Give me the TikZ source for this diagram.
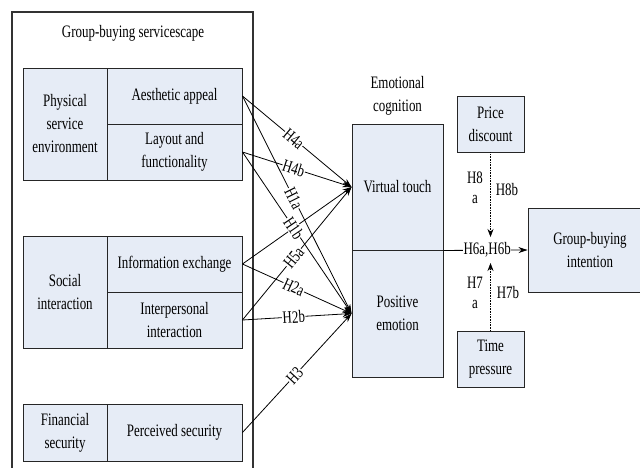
\documentclass[tikz,border=0pt]{standalone}
\usepackage{fontspec}
\setmainfont{Liberation Serif}[FakeStretch=0.74]
\usetikzlibrary{arrows.meta}
\definecolor{boxfill}{HTML}{E6ECF6}
\begin{document}
\begin{tikzpicture}[x=1pt,y=-1pt,
  every node/.style={font=\fontsize{17.5}{23}\selectfont},
  box/.style={draw=black!85, fill=boxfill, line width=0.9pt, align=center, inner sep=0pt},
  hyp/.style={-{Stealth[length=9pt,width=6pt]}, line width=0.8pt},
  hlab/.style={sloped, pos=0.47, fill=white, inner sep=0.5pt},
  modarr/.style={densely dotted, line width=0.6pt, -{Stealth[length=8pt,width=6pt]}},
  frame/.style={line width=1.2pt, draw=black!80}
]
\useasboundingbox (0,0) rectangle (640,467);
\clip (0,0) rectangle (640,467);
\fill[white] (0,0) rectangle (640,467);

% outer frame
\draw[frame] (12,470) -- (12,12) -- (253,12) -- (253,470);
\node (title) at (133,33) {Group-buying servicescape};

% group 1
\node[box, minimum width=84, minimum height=112] (pse) at (65,124) {Physical\\service\\environment};
\node[box, minimum width=135, minimum height=56] (aes) at (174.5,96) {Aesthetic appeal};
\node[box, minimum width=135, minimum height=56] (lay) at (174.5,152) {Layout and\\functionality};
% group 2
\node[box, minimum width=84, minimum height=112] (soc) at (65,292) {Social\\interaction};
\node[box, minimum width=135, minimum height=56] (inf) at (174.5,264) {Information exchange};
\node[box, minimum width=135, minimum height=56] (ipi) at (174.5,320) {Interpersonal\\interaction};
% group 3
\node[box, minimum width=84, minimum height=57] (fin) at (65,432.5) {Financial\\security};
\node[box, minimum width=135, minimum height=57] (per) at (174.5,432.5) {Perceived security};

% emotional cognition
\node[align=center] (ec) at (397.5,96) {Emotional\\cognition};
\node[box, minimum width=91, minimum height=126] (vt) at (397.5,187) {Virtual touch};
\node[box, minimum width=91, minimum height=127] (pe) at (397.5,313.5) {Positive\\emotion};

% moderators and outcome
\node[box, minimum width=67, minimum height=56] (pd) at (490.5,124) {Price\\discount};
\node[box, minimum width=67, minimum height=56] (tp) at (490.5,359) {Time\\pressure};
\node[box, minimum width=124, minimum height=84] (gbi) at (590,250) {Group-buying\\intention};

% hypotheses
\draw[hyp] (aes.east) -- node[hlab] {H4a} (vt.west);
\draw[hyp] (lay.east) -- node[hlab] {H4b} (vt.west);
\draw[hyp] (inf.east) -- (vt.west);
\draw[hyp] (aes.east) -- node[hlab] {H1a} (pe.west);
\draw[hyp] (lay.east) -- node[hlab] {H1b} (pe.west);
\draw[hyp] (ipi.east) -- node[hlab] {H5a} (vt.west);
\draw[hyp] (inf.east) -- node[hlab] {H2a} (pe.west);
\draw[hyp] (ipi.east) -- node[hlab] {H2b} (pe.west);
\draw[hyp] (per.east) -- node[hlab, pos=0.48] {H3} (pe.west);

% main path
\draw[hyp] (vt.south east) -- node[fill=white, inner sep=0.5pt, pos=0.52] {H6a,H6b} (gbi.west);

% moderators
\coordinate (c8) at (490.5,237);
\coordinate (c7) at (490.5,263);
\draw[modarr] (pd.south) -- (c8);
\draw[modarr] (tp.north) -- (c7);
\node[align=center, font=\fontsize{17.5}{20}\selectfont] (h8a) at (475,188) {H8\\a};
\node (h8b) at (507,190) {H8b};
\node[align=center, font=\fontsize{17.5}{20}\selectfont] (h7a) at (475,293) {H7\\a};
\node (h7b) at (508,293) {H7b};
\end{tikzpicture}
\end{document}
